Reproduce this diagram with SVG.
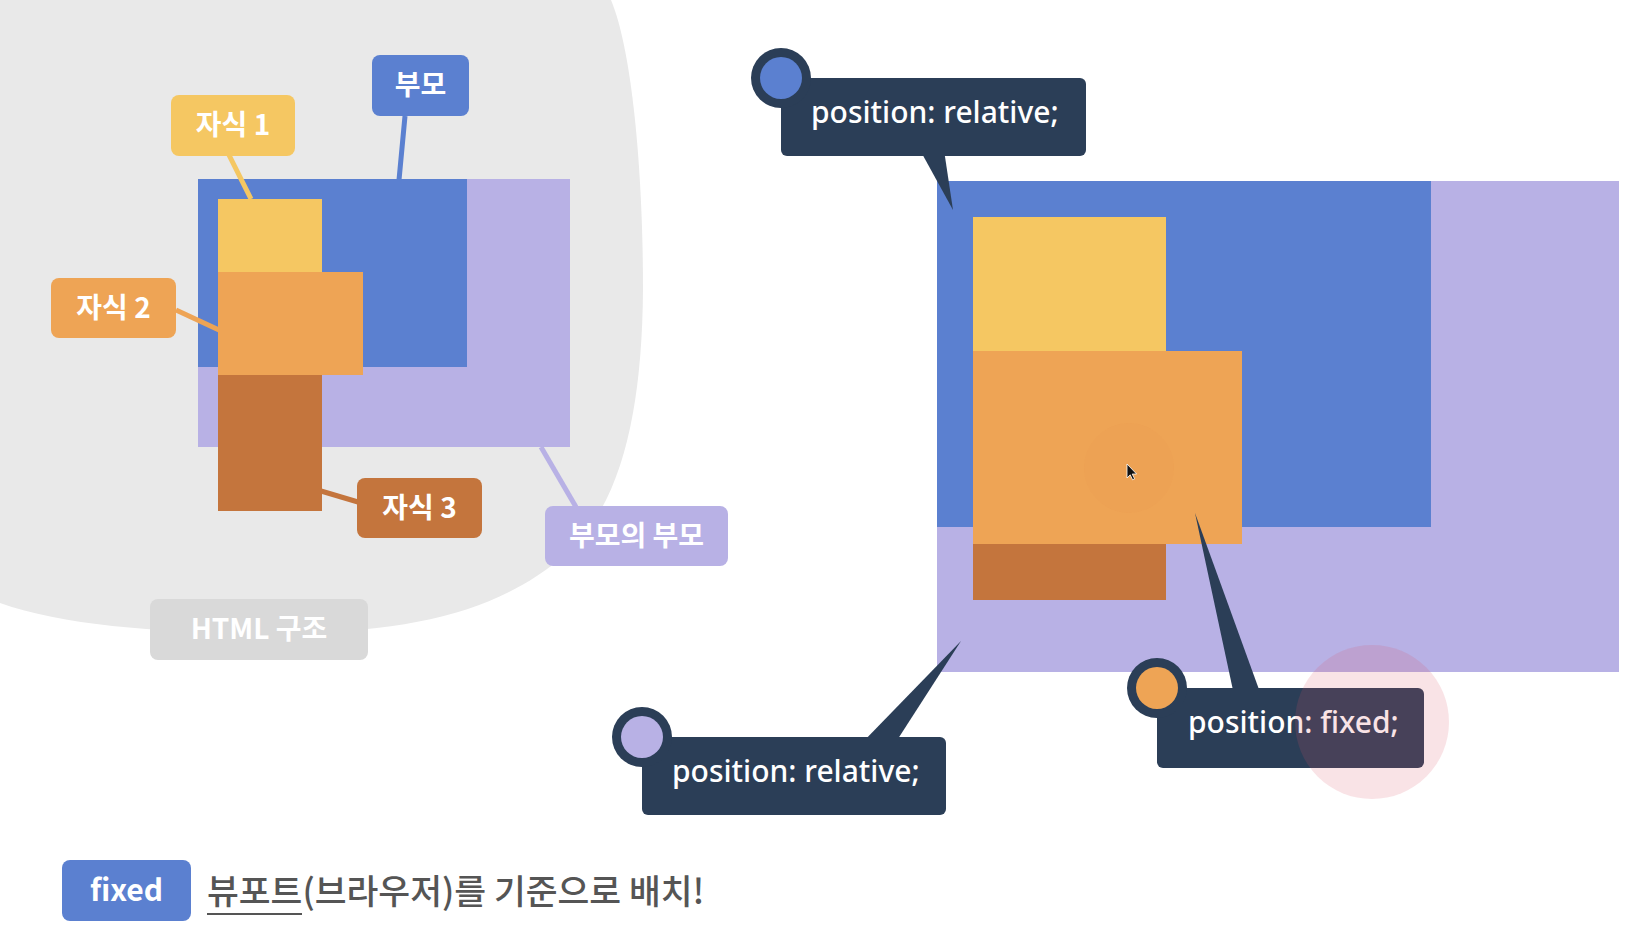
<svg xmlns="http://www.w3.org/2000/svg" width="1642" height="928" viewBox="0 0 1642 928">
<style>
.lbl{font-family:"Noto Sans CJK KR","Noto Sans",sans-serif;font-weight:700;font-size:28px;fill:#fff;text-anchor:middle}
.code{font-family:"Noto Sans","Noto Sans CJK KR",sans-serif;font-weight:500;font-size:30px;fill:#fff}
.navy{fill:#2b3e57}
.conn{stroke-width:5;fill:none}
</style>
<rect width="1642" height="928" fill="#fff"/>
<g id="html-area">
<path d="M0,0 L611,0 C632,50 643,170 643,290 C642,410 622,505 565,555 C500,610 420,630 300,633 C180,634 70,628 0,603 Z" fill="#e9e9e9"/>
</g>
<g id="left-boxes">
<rect x="198" y="179" width="372" height="268" fill="#b8b1e5"/>
<rect x="198" y="179" width="269" height="188" fill="#5b80d0"/>
<rect x="218" y="199" width="104" height="73" fill="#f5c762"/>
<rect x="218" y="272" width="145" height="103" fill="#eea455"/>
<rect x="218" y="375" width="104" height="136" fill="#c4753d"/>
</g>
<g id="connectors">
<line class="conn" x1="405" y1="116" x2="399" y2="180" stroke="#5b80d0"/>
<line class="conn" x1="229" y1="155" x2="251" y2="199" stroke="#f5c762"/>
<line class="conn" x1="176" y1="310" x2="219" y2="330" stroke="#eea455"/>
<line class="conn" x1="321" y1="491" x2="358" y2="502" stroke="#c4753d"/>
<line class="conn" x1="541" y1="447" x2="576" y2="507" stroke="#b8b1e5"/>
</g>
<g id="label-parent"><rect x="372" y="55" width="97" height="61" rx="8" fill="#5b80d0"/><text class="lbl" x="420.5" y="95">부모</text></g>
<g id="label-child1"><rect x="171" y="95" width="124" height="61" rx="8" fill="#f5c762"/><text class="lbl" x="233" y="135">자식 1</text></g>
<g id="label-child2"><rect x="51" y="278" width="125" height="60" rx="8" fill="#eea455"/><text class="lbl" x="113.5" y="318">자식 2</text></g>
<g id="label-child3"><rect x="357" y="478" width="125" height="60" rx="8" fill="#c4753d"/><text class="lbl" x="419.5" y="518">자식 3</text></g>
<g id="label-grandparent"><rect x="545" y="506" width="183" height="60" rx="8" fill="#b8b1e5"/><text class="lbl" x="636.5" y="546">부모의 부모</text></g>
<g id="label-html"><rect x="150" y="599" width="218" height="61" rx="8" fill="#d9d9d9"/><text class="lbl" x="259" y="639">HTML 구조</text></g>
<g id="right-boxes">
<rect x="937" y="181" width="682" height="491" fill="#b8b1e5"/>
<rect x="937" y="181" width="494" height="346" fill="#5b80d0"/>
<rect x="973" y="217" width="193" height="134" fill="#f5c762"/>
<rect x="973" y="351" width="269" height="193" fill="#eea455"/>
<rect x="973" y="544" width="193" height="56" fill="#c4753d"/>
<circle cx="1129" cy="468" r="45" fill="#c8642a" fill-opacity="0.025"/>
<path d="M1127,464 l0,14 l3.2,-3.2 l2.4,5 l2,-1 l-2.4,-4.8 l4.4,0 Z" fill="#111" stroke="#fff" stroke-width="0.8"/>
</g>
<g id="callout-parent">
<polygon class="navy" points="920,150 944,150 953,210"/>
<rect class="navy" x="781" y="78" width="305" height="78" rx="6"/>
<circle class="navy" cx="781" cy="78" r="30"/>
<circle cx="781" cy="78" r="21" fill="#5b80d0"/>
<text class="code" x="811" y="123">position: relative;</text>
</g>
<g id="callout-grandparent">
<polygon class="navy" points="860,745 894,745 961,641"/>
<rect class="navy" x="642" y="737" width="304" height="78" rx="6"/>
<circle class="navy" cx="642" cy="737" r="30"/>
<circle cx="642" cy="737" r="21" fill="#b8b1e5"/>
<text class="code" x="672" y="782">position: relative;</text>
</g>
<g id="callout-fixed">
<polygon class="navy" points="1234,695 1261,695 1195,513"/>
<rect class="navy" x="1157" y="688" width="267" height="80" rx="6"/>
<circle class="navy" cx="1157" cy="688" r="30"/>
<circle cx="1157" cy="688" r="21" fill="#eea455"/>
<text class="code" x="1188" y="733">position: fixed;</text>
</g>
<g id="highlight"><circle cx="1372" cy="722" r="77" fill="#d75064" fill-opacity="0.16"/></g>
<g id="legend">
<rect x="62" y="860" width="129" height="61" rx="8" fill="#5b80d0"/>
<text class="lbl" x="126.5" y="901" style="font-size:30px">fixed</text>
<text x="207" y="904" font-family="Noto Sans CJK KR, sans-serif" font-weight="500" font-size="34.6" fill="#555">뷰포트(브라우저)를 기준으로 배치!</text>
<line x1="207" y1="914" x2="302" y2="914" stroke="#555" stroke-width="2"/>
</g>
</svg>
